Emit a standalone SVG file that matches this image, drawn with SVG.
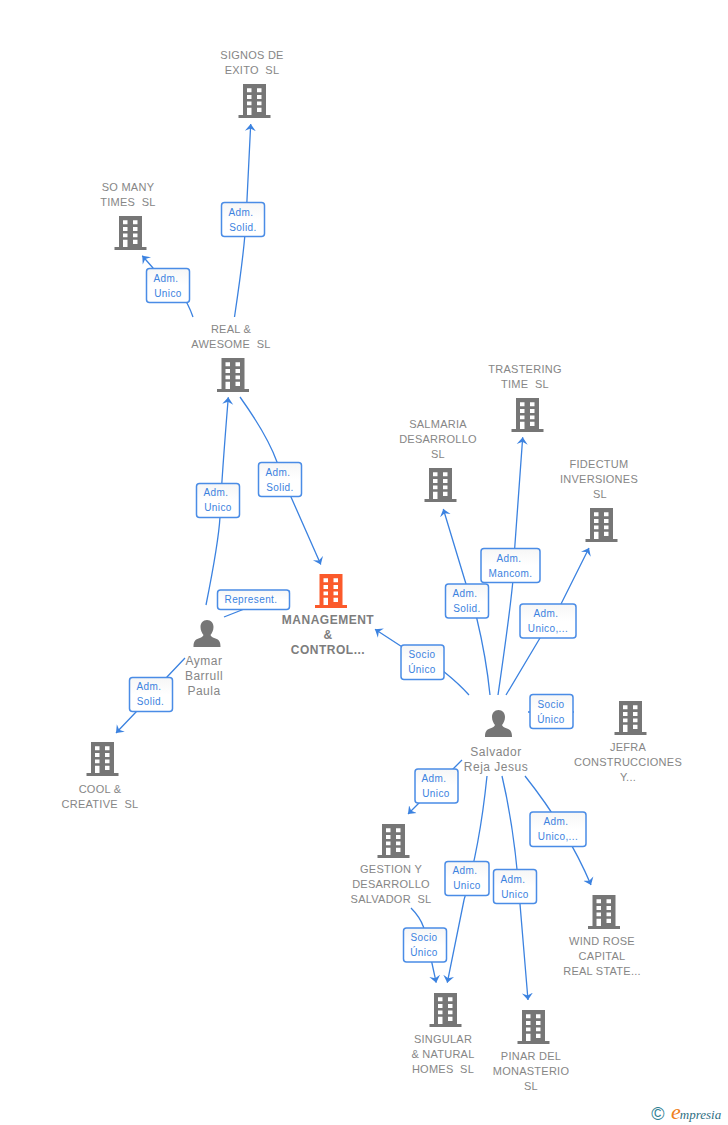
<svg xmlns="http://www.w3.org/2000/svg" width="728" height="1125" viewBox="0 0 728 1125">
<style>
text{white-space:pre}
.lb{font:11px "Liberation Sans",Arial,sans-serif;fill:#868686;text-anchor:middle;letter-spacing:.25px}
.pl{font:12px "Liberation Sans",Arial,sans-serif;fill:#868686;text-anchor:middle;letter-spacing:.5px}
.mg{font:bold 12px "Liberation Sans",Arial,sans-serif;fill:#7d7d7d;text-anchor:middle;letter-spacing:.5px}
.e{fill:none;stroke:#3b82e0;stroke-width:1.3}
.a{marker-end:url(#ar)}
.b{fill:url(#bf);stroke:#4a8ce6;stroke-width:1.5}
.t{font:10px "Liberation Sans",Arial,sans-serif;fill:#3b82e0;text-anchor:middle;letter-spacing:.4px}
</style>
<defs>
<linearGradient id="bf" x1="0" y1="0" x2="0" y2="1"><stop offset="0" stop-color="#f6f6f6"/><stop offset=".5" stop-color="#fff"/></linearGradient>
<marker id="ar" markerUnits="userSpaceOnUse" markerWidth="14" markerHeight="14" refX="7" refY="6" orient="auto"><path d="M7,6 L0,0.500 L2.500,6 L0,11.500 Z" fill="#3b82e0"/></marker>
<symbol id="bld" width="32" height="34" viewBox="0 0 32 34" overflow="visible">
<path fill-rule="evenodd" d="M4.500,0H27.500V31H32V34H0V31H4.500Z M8.500,4.300V8.300H13V4.300Z M18.500,4.300V8.300H23V4.300Z M8.500,11V15H13V11Z M18.500,11V15H23V11Z M8.500,17.500V21.300H13V17.500Z M18.500,17.500V21.300H23V17.500Z M8.500,23.800V31H13V23.800Z M18.500,23.800V28H23V23.800Z"/>
</symbol>
<symbol id="per" width="27" height="27" viewBox="0 0 27 27" overflow="visible">
<path d="M13.500,0C17.500,0 20,3 20,7C20,10.500 18.500,13 17,15C17.500,16.500 19,17.500 22,18.500C25.500,19.700 27,21.500 27,27H0C0,21.500 1.500,19.700 5,18.500C8,17.500 9.500,16.500 10,15C8.500,13 7,10.500 7,7C7,3 9.500,0 13.500,0Z"/>
</symbol>
</defs>
<g id="connectors">
<path class="e a" d="M234.500,317C240,280 244.500,250 246,220C247.500,190 249,160 250.700,124"/>
<path class="e a" d="M193,317C191,311 189,307 187,303L153,268L142.300,255.700"/>
<path class="e a" d="M240,397C255,418 269,440 277,462C282,475 287,487 291,497L320.800,564.500"/>
<path class="e a" d="M206,605C213,570 219,535 220,517C221,490 224,450 228.300,397.300"/>
<path class="e" d="M224,617L290,591"/>
<path class="e a" d="M185,658L167,677L136,712L116,733"/>
<path class="e a" d="M469,695C462,687 453,679 444,671.700C432,663 416,654 400.700,646L375,629.300"/>
<path class="e a" d="M490,695C487,665 482,640 476.700,618L465.700,583L443.300,509"/>
<path class="e a" d="M498,695C503,660 509,620 512.700,583L514.700,548L522.700,437.300"/>
<path class="e a" d="M506,695L540,638L561,604L589,548"/>
<path class="e" d="M528,712H574"/>
<path class="e a" d="M462,760L408,814"/>
<path class="e a" d="M487,776C483,815 476,860 464,900L447.300,982.700"/>
<path class="e a" d="M502,776C510,810 517,860 520,904L528,1000"/>
<path class="e a" d="M525,776C548,805 572,840 591,885"/>
<path class="e a" d="M411,908C417,914 421,920 423.500,927L431.700,962L436.200,982.700"/>
</g>
<g id="edge-labels">
<g><rect class="b" x="221.500" y="202.500" width="43" height="34" rx="3"/><text class="t" x="241" y="216">Adm.</text><text class="t" x="243" y="231">Solid.</text></g>
<g><rect class="b" x="146.500" y="268.500" width="43" height="34" rx="3"/><text class="t" x="166" y="282">Adm.</text><text class="t" x="168" y="297">Unico</text></g>
<g><rect class="b" x="258.500" y="462.500" width="43" height="34" rx="3"/><text class="t" x="278" y="476">Adm.</text><text class="t" x="280" y="491">Solid.</text></g>
<g><rect class="b" x="196.500" y="483.500" width="43" height="34" rx="3"/><text class="t" x="216" y="496">Adm.</text><text class="t" x="218" y="511">Unico</text></g>
<g><rect class="b" x="217.500" y="590" width="72" height="19.500" rx="3"/><text class="t" x="251" y="603">Represent.</text></g>
<g><rect class="b" x="129.500" y="677.500" width="43" height="34" rx="3"/><text class="t" x="149" y="690">Adm.</text><text class="t" x="150.500" y="705">Solid.</text></g>
<g><rect class="b" x="401" y="645" width="43" height="34.500" rx="3"/><text class="t" x="422" y="658">Socio</text><text class="t" x="422" y="673">Único</text></g>
<g><rect class="b" x="445.500" y="584" width="43" height="34" rx="3"/><text class="t" x="465" y="597">Adm.</text><text class="t" x="467" y="612">Solid.</text></g>
<g><rect class="b" x="481" y="548.500" width="59" height="34" rx="3"/><text class="t" x="509" y="562">Adm.</text><text class="t" x="510.500" y="577">Mancom.</text></g>
<g><rect class="b" x="520" y="604" width="56" height="34" rx="3"/><text class="t" x="546" y="617">Adm.</text><text class="t" x="548" y="632">Unico,...</text></g>
<g><rect class="b" x="530" y="694.500" width="43" height="34" rx="3"/><text class="t" x="551" y="708">Socio</text><text class="t" x="551" y="723">Único</text></g>
<g><rect class="b" x="415" y="769" width="43" height="34" rx="3"/><text class="t" x="434" y="782">Adm.</text><text class="t" x="436" y="797">Unico</text></g>
<g><rect class="b" x="530" y="812" width="56" height="34.500" rx="3"/><text class="t" x="556" y="825">Adm.</text><text class="t" x="558" y="840">Unico,...</text></g>
<g><rect class="b" x="445" y="861.500" width="44" height="34" rx="3"/><text class="t" x="465" y="874">Adm.</text><text class="t" x="467" y="889">Unico</text></g>
<g><rect class="b" x="493.500" y="869.500" width="43" height="34" rx="3"/><text class="t" x="513" y="883">Adm.</text><text class="t" x="515" y="898">Unico</text></g>
<g><rect class="b" x="403.500" y="928" width="43" height="34" rx="3"/><text class="t" x="424" y="941">Socio</text><text class="t" x="424" y="956">Único</text></g>
</g>
<g id="n-signos"><text class="lb" x="252" y="59">SIGNOS DE</text><text class="lb" x="252" y="74">EXITO  SL</text><use href="#bld" x="238.500" y="84" fill="#767676"/></g>
<g id="n-somany"><text class="lb" x="128" y="191">SO MANY</text><text class="lb" x="128" y="206">TIMES  SL</text><use href="#bld" x="114.500" y="216" fill="#767676"/></g>
<g id="n-real"><text class="lb" x="231" y="333">REAL &amp;</text><text class="lb" x="231" y="348">AWESOME  SL</text><use href="#bld" x="217" y="358" fill="#767676"/></g>
<g id="n-management"><use href="#bld" x="315" y="574" fill="#fb5a2b"/><text class="mg" x="328" y="624">MANAGEMENT</text><text class="mg" x="328" y="639">&amp;</text><text class="mg" x="328" y="654">CONTROL...</text></g>
<g id="n-aymar"><use href="#per" x="193.500" y="620" fill="#767676"/><text class="pl" x="204" y="665">Aymar</text><text class="pl" x="204" y="680">Barrull</text><text class="pl" x="204" y="695">Paula</text></g>
<g id="n-cool"><use href="#bld" x="86.500" y="742" fill="#767676"/><text class="lb" x="100" y="793">COOL &amp;</text><text class="lb" x="100" y="808">CREATIVE  SL</text></g>
<g id="n-trastering"><text class="lb" x="525" y="373">TRASTERING</text><text class="lb" x="525" y="388">TIME  SL</text><use href="#bld" x="511.500" y="398" fill="#767676"/></g>
<g id="n-salmaria"><text class="lb" x="438" y="428">SALMARIA</text><text class="lb" x="438" y="443">DESARROLLO</text><text class="lb" x="438" y="458">SL</text><use href="#bld" x="424.500" y="468" fill="#767676"/></g>
<g id="n-fidectum"><text class="lb" x="599" y="468">FIDECTUM</text><text class="lb" x="599" y="483">INVERSIONES</text><text class="lb" x="600" y="498">SL</text><use href="#bld" x="585.500" y="508" fill="#767676"/></g>
<g id="n-salvador"><use href="#per" x="485" y="710" fill="#767676"/><text class="pl" x="496" y="756">Salvador</text><text class="pl" x="496" y="771">Reja Jesus</text></g>
<g id="n-jefra"><use href="#bld" x="614.500" y="701" fill="#767676"/><text class="lb" x="628" y="751">JEFRA</text><text class="lb" x="628" y="766">CONSTRUCCIONES</text><text class="lb" x="628" y="781">Y...</text></g>
<g id="n-gestion"><use href="#bld" x="377.500" y="824" fill="#767676"/><text class="lb" x="391" y="873">GESTION Y</text><text class="lb" x="391" y="888">DESARROLLO</text><text class="lb" x="391" y="903">SALVADOR  SL</text></g>
<g id="n-wind"><use href="#bld" x="588" y="895" fill="#767676"/><text class="lb" x="602" y="945">WIND ROSE</text><text class="lb" x="602" y="960">CAPITAL</text><text class="lb" x="602" y="975">REAL STATE...</text></g>
<g id="n-singular"><use href="#bld" x="429.500" y="993" fill="#767676"/><text class="lb" x="443" y="1043">SINGULAR</text><text class="lb" x="443" y="1058">&amp; NATURAL</text><text class="lb" x="443" y="1073">HOMES  SL</text></g>
<g id="n-pinar"><use href="#bld" x="517.500" y="1010" fill="#767676"/><text class="lb" x="531" y="1060">PINAR DEL</text><text class="lb" x="531" y="1075">MONASTERIO</text><text class="lb" x="531" y="1090">SL</text></g>
<g id="logo"><text x="658" y="1120" text-anchor="middle" style="font:18px 'Liberation Sans',sans-serif;fill:#2f7f93">©</text><text x="671" y="1119" style="font:italic 13px 'Liberation Serif',serif;fill:#2f6f83"><tspan style="font-size:22px;fill:#f08020">e</tspan><tspan dx="-1">mpresia</tspan></text></g>
</svg>
